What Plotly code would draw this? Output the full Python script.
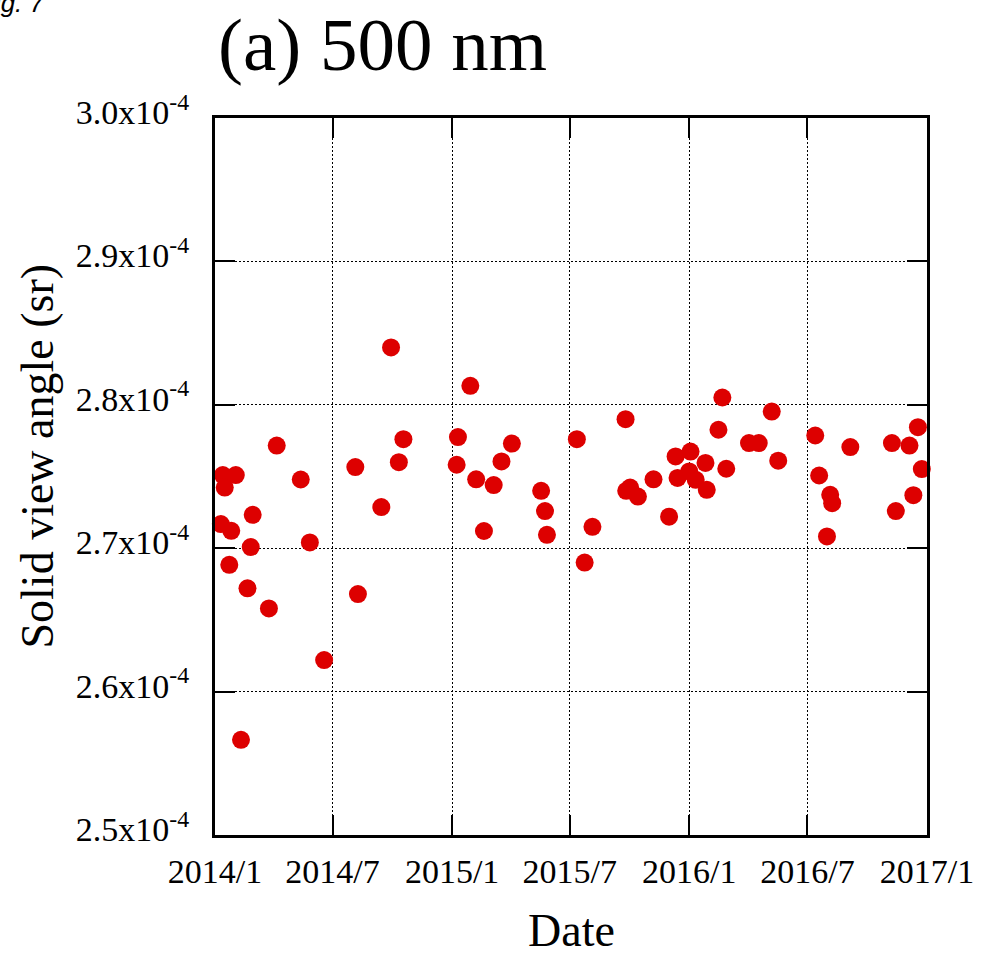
import plotly.graph_objects as go

dates = [
    "2014-01-10", "2014-01-13", "2014-01-16", "2014-01-23", "2014-01-26", "2014-02-02",
    "2014-02-10", "2014-02-20", "2014-02-25", "2014-02-28", "2014-03-25", "2014-04-06",
    "2014-05-13", "2014-05-27", "2014-06-18", "2014-08-05", "2014-08-09", "2014-09-14",
    "2014-09-29", "2014-10-11", "2014-10-18", "2015-01-08", "2015-01-10", "2015-01-29",
    "2015-02-07", "2015-02-19", "2015-03-06", "2015-03-18", "2015-04-03", "2015-05-18",
    "2015-05-24", "2015-05-27", "2015-07-12", "2015-07-24", "2015-08-05", "2015-09-25",
    "2015-09-26", "2015-10-02", "2015-10-14", "2015-11-07", "2015-12-01", "2015-12-11",
    "2015-12-14", "2016-01-01", "2016-01-03", "2016-01-11", "2016-01-26", "2016-01-28",
    "2016-02-15", "2016-02-21", "2016-02-27", "2016-04-02", "2016-04-17", "2016-05-07",
    "2016-05-17", "2016-07-13", "2016-07-19", "2016-07-31", "2016-08-05", "2016-08-08",
    "2016-09-05", "2016-11-08", "2016-11-14", "2016-12-05", "2016-12-11", "2016-12-18",
    "2016-12-24",
]
# solid view angle in units of 1e-4 sr
values_e4 = [
    2.7168, 2.7510, 2.7423, 2.6884, 2.7121, 2.7510,
    2.5664, 2.6720, 2.7008, 2.7233, 2.6580, 2.7716,
    2.7479, 2.7040, 2.6220, 2.7566, 2.6680, 2.7287,
    2.8400, 2.7600, 2.7760, 2.7582, 2.7775, 2.8132,
    2.7480, 2.7120, 2.7440, 2.7605, 2.7730, 2.7400,
    2.7259, 2.7093, 2.7760, 2.6900, 2.7149, 2.7900,
    2.7400, 2.7423, 2.7360, 2.7480, 2.7220, 2.7640,
    2.7490, 2.7535, 2.7674, 2.7477, 2.7595, 2.7407,
    2.7826, 2.8051, 2.7554, 2.7733, 2.7733, 2.7953,
    2.7610, 2.7786, 2.7507, 2.7082, 2.7372, 2.7314,
    2.7705, 2.7733, 2.7259, 2.7716, 2.7370, 2.7844,
    2.7552,
]
values = [v * 1e-4 for v in values_e4]

x_tickvals = ["2014-01-01", "2014-07-01", "2015-01-01", "2015-07-01",
              "2016-01-01", "2016-07-01", "2017-01-01"]
x_ticktext = ["2014/1", "2014/7", "2015/1", "2015/7", "2016/1", "2016/7", "2017/1"]
y_tickvals = [2.5e-4, 2.6e-4, 2.7e-4, 2.8e-4, 2.9e-4, 3.0e-4]
y_ticktext = ["2.5x10<sup>-4</sup>", "2.6x10<sup>-4</sup>", "2.7x10<sup>-4</sup>",
              "2.8x10<sup>-4</sup>", "2.9x10<sup>-4</sup>", "3.0x10<sup>-4</sup>"]

FONT = "Liberation Serif"
W, H = 986, 955
L, R, T, B = 215, 53, 118, 120

fig = go.Figure()
fig.add_trace(go.Scatter(
    x=dates, y=values, mode="markers",
    marker=dict(size=18, color="#dd0000", line=dict(width=0)),
    cliponaxis=False, showlegend=False,
))

axis_common = dict(
    showline=True, linecolor="black", linewidth=3, mirror="ticks",
    ticks="inside", ticklen=20, tickwidth=1.5, tickcolor="black",
    showgrid=True, gridcolor="black", gridwidth=1, griddash="2px,2px",
    zeroline=False, tickfont=dict(family=FONT, size=34, color="black"),
)

fig.update_xaxes(
    type="date", range=["2014-01-01", "2017-01-01"],
    tickmode="array", tickvals=x_tickvals, ticktext=x_ticktext,
    ticklabelstandoff=4, **axis_common,
)
fig.update_yaxes(
    range=[2.5e-4, 3.0e-4],
    tickmode="array", tickvals=y_tickvals, ticktext=y_ticktext,
    ticklabelstandoff=16, ticklabelshift=-6, **axis_common,
)

def px(xp):
    return (xp - L) / (W - L - R)

def py(yp):
    return (H - B - yp) / (H - T - B)

fig.update_layout(
    width=W, height=H,
    margin=dict(l=L, r=R, t=T, b=B),
    paper_bgcolor="white", plot_bgcolor="white",
    font=dict(family=FONT, color="black"),
    annotations=[
        dict(text="(a) 500 nm", x=px(384), y=py(45), xref="paper", yref="paper",
             xanchor="center", yanchor="middle", showarrow=False,
             font=dict(family=FONT, size=75, color="black")),
        dict(text="Date", x=px(575), y=py(931), xref="paper", yref="paper",
             xanchor="center", yanchor="middle", showarrow=False,
             font=dict(family=FONT, size=46, color="black")),
        dict(text="Solid view angle (sr)", x=px(36), y=py(456), xref="paper", yref="paper",
             xanchor="center", yanchor="middle", showarrow=False, textangle=-90,
             font=dict(family=FONT, size=46, color="black")),
        dict(text="<i>Fig. 7</i>", x=px(47), y=py(-14), xref="paper", yref="paper",
             xanchor="right", yanchor="top", showarrow=False,
             font=dict(family="Liberation Sans", size=26, color="black")),
    ],
)

fig.write_html("out.html")
